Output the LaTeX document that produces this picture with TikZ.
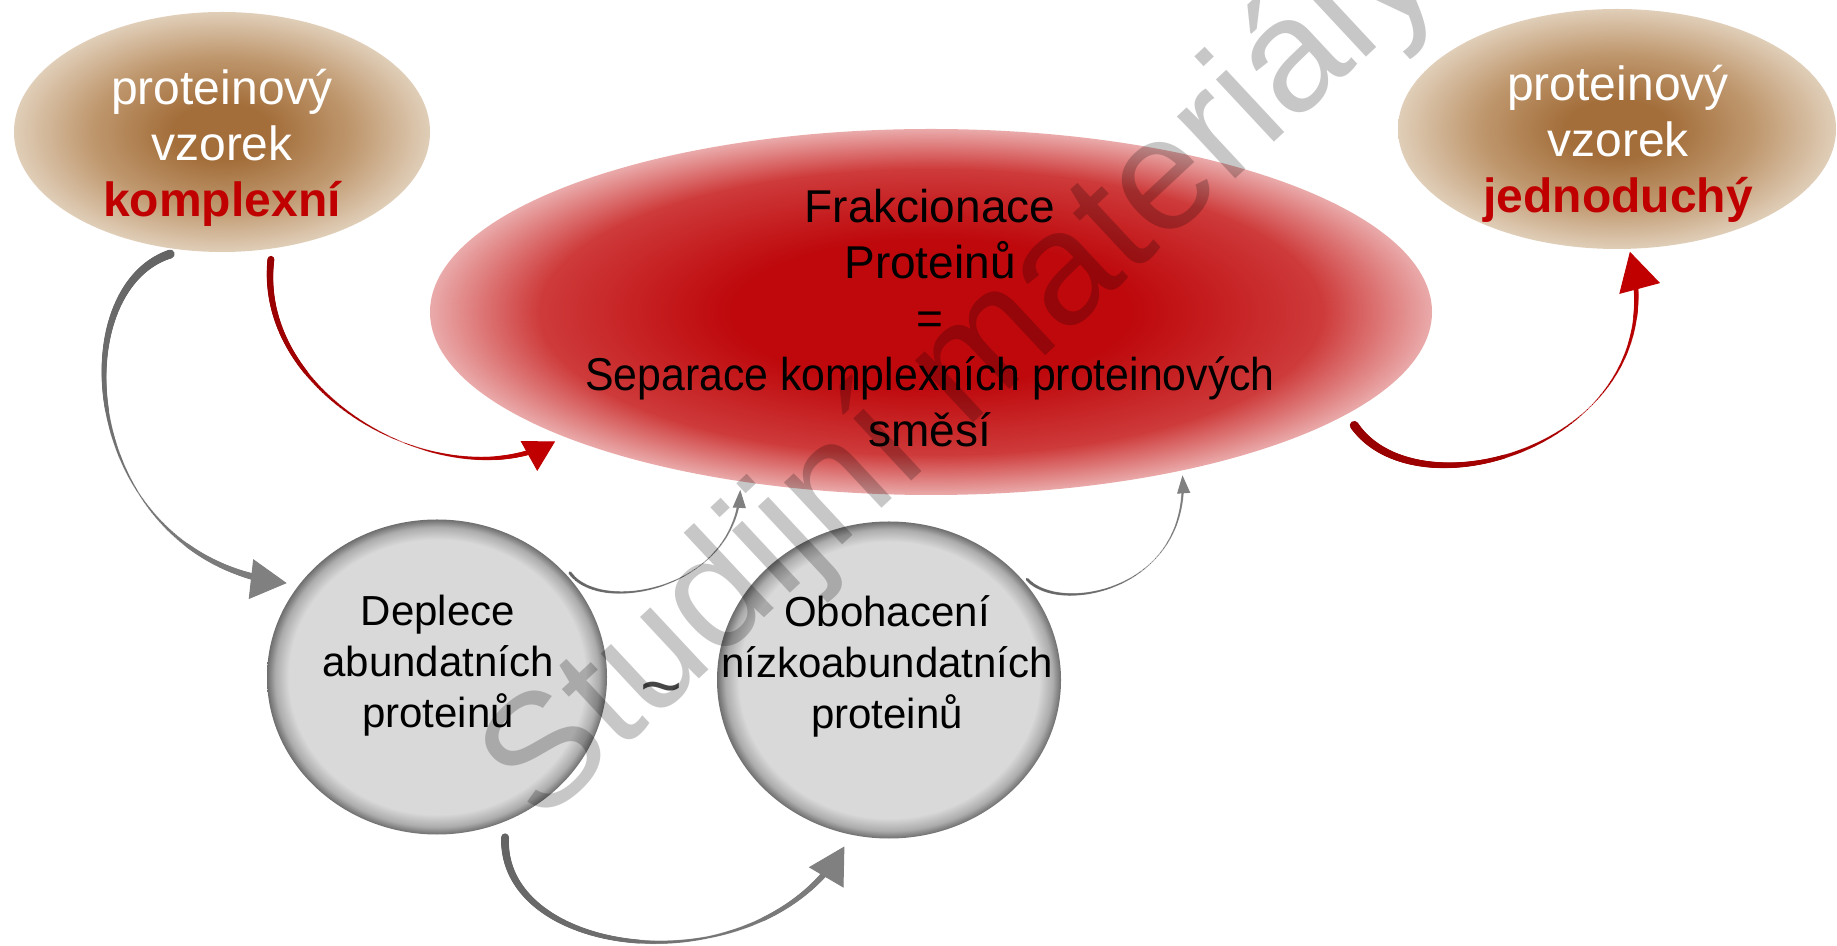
\documentclass[tikz,border=0pt]{standalone}
\usepackage{fontspec}
\setmainfont{Liberation Sans}
\usetikzlibrary{shapes.geometric,arrows.meta,decorations.markings,calc}
\definecolor{brC}{RGB}{163,110,58}
\definecolor{brM}{RGB}{192,153,112}
\definecolor{brE}{RGB}{224,206,184}
\definecolor{rdC}{RGB}{190,8,12}
\definecolor{rdM}{RGB}{206,58,58}
\definecolor{rdE}{RGB}{234,170,170}
\definecolor{gyC}{RGB}{217,217,217}
\definecolor{gyM}{RGB}{172,172,172}
\definecolor{gyE}{RGB}{110,110,110}
\definecolor{txtred}{RGB}{192,0,0}
\definecolor{redA}{RGB}{150,0,0}
\definecolor{redB}{RGB}{192,0,0}
\definecolor{grayA}{RGB}{100,100,100}
\definecolor{grayB}{RGB}{128,128,128}
\pgfdeclareradialshading{brownshade}{\pgfpoint{0bp}{0bp}}{color(0bp)=(brC); color(6bp)=(brC); color(16bp)=(brM); color(25bp)=(brE); color(50bp)=(brE)}
\pgfdeclareradialshading{redshade}{\pgfpoint{0bp}{0bp}}{color(0bp)=(rdC); color(10bp)=(rdC); color(19.5bp)=(rdM); color(25bp)=(rdE); color(50bp)=(rdE)}
\pgfdeclareradialshading{grayshade}{\pgfpoint{0bp}{0bp}}{color(0bp)=(gyC); color(21.8bp)=(gyC); color(23.8bp)=(gyM); color(25bp)=(gyE); color(50bp)=(gyE)}
\tikzset{
  taper/.style n args={5}{postaction={decorate,decoration={markings,
    mark=between positions 0 and -14bp step 1bp with {%
      \pgfmathsetmacro\tpf{\pgfkeysvalueof{/pgf/decoration/mark info/distance from start}/\pgfdecoratedpathlength}%
      \pgfmathsetmacro\tpw{\tpf<0.6 ? #3+(#4-#3)*\tpf/0.6 : #4+(#5-#4)*(\tpf-0.6)/0.4}%
      \pgfmathsetmacro\tpp{100*(1-\tpf)}%
      \fill[#1!\tpp!#2] (0,0) circle[radius=\tpw*0.5bp];
    }}}},
}
\begin{document}
\begin{tikzpicture}[x=1bp,y=1bp,
  blob/.style={ellipse,inner sep=0pt,outer sep=0pt,shade},
  brownblob/.style={blob,shading=brownshade},
  redblob/.style={blob,shading=redshade},
  grayblob/.style={blob,shading=grayshade},
  browntxt/.style={align=center,text=white,font=\fontsize{48bp}{56bp}\selectfont},
  redtxt/.style={align=center,text=black,font=\fontsize{46bp}{56bp}\selectfont},
  graytxt/.style={align=center,text=black,font=\fontsize{42bp}{51bp}\selectfont},
  gbighead/.style={draw=grayB,line width=1bp,-{Triangle[length=36bp,width=40bp]}},
  gsmallhead/.style={draw=grayB,line width=1bp,-{Triangle[length=18bp,width=13bp]}},
  rlefthead/.style={draw=redB,line width=1bp,-{Triangle[length=30bp,width=34bp]}},
  rrighthead/.style={draw=redB,line width=1bp,-{Triangle[length=38bp,width=42bp]}},
]
\fill[white] (0,0) rectangle (1837,945);
\useasboundingbox (0,0) rectangle (1837,945);

\node[brownblob,minimum width=416bp,minimum height=240bp] (lb) at (222,813) {};
\node[brownblob,minimum width=438bp,minimum height=240bp] (rb) at (1617,816) {};
\node[redblob,minimum width=1002bp,minimum height=366bp] (fr) at (931,633) {};
\node[grayblob,minimum width=340bp,minimum height=315bp] (dep) at (437,268) {};
\node[grayblob,minimum width=344bp,minimum height=317bp] (obo) at (889,265) {};

\node[browntxt] (lbt) at (222,797) {proteinový\\vzorek\\\textcolor{txtred}{\bfseries komplexní}};
\node[browntxt] (rbt) at (1618,801) {proteinový\\vzorek\\\textcolor{txtred}{\bfseries jednoduchý}};
\node[redtxt] (frt) at (930,627) {Frakcionace\\Proteinů\\=\\\scalebox{0.93}[1]{Separace komplexních proteinových}\\směsí};
\node[graytxt] (dept) at (438,279) {Deplece\\abundatních\\proteinů};
\node[graytxt] (obot) at (887,279) {Obohacení\\nízkoabundatních\\proteinů};
\node[text={rgb,255:red,70;green,70;blue,70},font=\fontsize{72bp}{72bp}\selectfont] (tl) at (662,249) {\textasciitilde};

% connector end points
\coordinate (s1) at ($(lb.-113)!-6bp!(lb.center)$);
\coordinate (e1) at ($(dep.148)!-11bp!(dep.center)$);
\coordinate (s2) at ($(lb.-69)!-11bp!(lb.center)$);
\coordinate (e2) at ($(fr.199)!-12bp!(fr.center)$);
\coordinate (s3) at ($(fr.-15.5)!-20bp!(fr.center)$);
\coordinate (e3) at ($(rb.-84)!-3bp!(rb.center)$);
\coordinate (s4) at ($(dep.38)!-4bp!(dep.center)$);
\coordinate (e4) at ($(fr.223)!-11bp!(fr.center)$);
\coordinate (s5) at ($(obo.36)!-4bp!(obo.center)$);
\coordinate (e5) at ($(fr.-33)!-7bp!(fr.center)$);
\coordinate (s6) at ($(dep.-67.5)!-15bp!(dep.center)$);
\coordinate (e6) at ($(obo.-105.5)!-13bp!(obo.center)$);

\path[taper={grayA}{grayB}{9}{1.5}{8}] (s1) .. controls (60,655) and (80,385) .. (e1);
\draw[gbighead] ($(e1)!20bp!(80,385)$) -- (e1);
\path[taper={redA}{redB}{7}{1}{6}] (s2) .. controls (255,545) and (450,445) .. (e2);
\draw[rlefthead] ($(e2)!20bp!(450,445)$) -- (e2);
\path[taper={redA}{redB}{9}{1}{6}] (s3) .. controls (1420,425) and (1680,505) .. (e3);
\draw[rrighthead] ($(e3)!20bp!(1680,505)$) -- (e3);
\path[taper={grayA}{grayB}{3.5}{1}{3}] (s4) .. controls (600,330) and (735,355) .. (e4);
\draw[gsmallhead] ($(e4)!10bp!(735,355)$) -- (e4);
\path[taper={grayA}{grayB}{3.5}{1}{3}] (s5) .. controls (1060,330) and (1190,355) .. (e5);
\draw[gsmallhead] ($(e5)!10bp!(1190,355)$) -- (e5);
\path[taper={grayA}{grayB}{8}{2.5}{7}] (s6) .. controls (500,-15) and (760,-45) .. (e6);
\draw[gbighead] ($(e6)!20bp!(760,-45)$) -- (e6);

\node[rotate=43,anchor=base west,inner sep=0pt,text=black,text opacity=0.22,font=\fontsize{161bp}{161bp}\selectfont] (wm) at (540,118) {Studijní materiály};
\end{tikzpicture}
\end{document}
